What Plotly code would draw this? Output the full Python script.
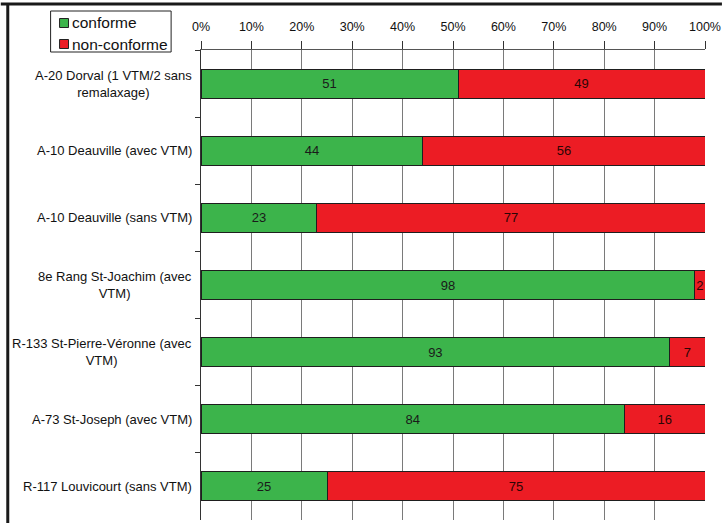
import plotly.graph_objects as go

categories = [
    "A-20 Dorval (1 VTM/2 sans<br>remalaxage)",
    "A-10 Deauville (avec VTM)",
    "A-10 Deauville (sans VTM)",
    "8e Rang St-Joachim (avec<br>VTM)",
    "R-133 St-Pierre-Véronne (avec<br>VTM)",
    "A-73 St-Joseph (avec VTM)",
    "R-117 Louvicourt (sans VTM)",
]
conforme = [51, 44, 23, 98, 93, 84, 25]
non_conforme = [49, 56, 77, 2, 7, 16, 75]
series_names = ["conforme", "non-conforme"]
series_colors = ["#3cb44b", "#ec1c24"]
x_ticks = [0, 10, 20, 30, 40, 50, 60, 70, 80, 90, 100]
x_ticklabels = [f"{v}%" for v in x_ticks]

FONT = "Liberation Sans, Arial, sans-serif"
W, H = 724, 523
L, R, T, B = 201, 17, 50, 3
pw, ph = W - L - R, H - T - B

def px_x(p):
    return (p - L) / pw

def px_y(p):
    return (H - B - p) / ph

fig = go.Figure()
for vals, name, col, tcol in [(conforme, series_names[0], series_colors[0], "#1a1a1a"),
                              (non_conforme, series_names[1], series_colors[1], "#2a0505")]:
    fig.add_trace(go.Bar(
        y=categories, x=vals, name=name, orientation="h",
        marker=dict(color=col, line=dict(color="#1e1e1e", width=1)),
        text=vals, textposition="inside", insidetextanchor="middle",
        textfont=dict(color=tcol, size=13, family=FONT),
        showlegend=False,
    ))

for c in categories:
    fig.add_annotation(
        x=0, xref="paper", y=c, yref="y", text=c, showarrow=False,
        xanchor="right", align="center", xshift=-7,
        font=dict(size=13, color="#111", family=FONT),
    )

# outer frame (top and left dark border)
fig.add_shape(type="line", xref="paper", yref="paper",
              x0=px_x(0), x1=px_x(W), y0=px_y(4), y1=px_y(4),
              line=dict(color="#1a1a1a", width=3))
fig.add_shape(type="line", xref="paper", yref="paper",
              x0=px_x(7), x1=px_x(7), y0=px_y(4), y1=px_y(H),
              line=dict(color="#1a1a1a", width=3))

# custom legend box
fig.add_shape(type="rect", xref="paper", yref="paper",
              x0=px_x(50), x1=px_x(171), y0=px_y(11), y1=px_y(52),
              line=dict(color="#222", width=1), fillcolor="white")
for i, (name, col) in enumerate(zip(series_names, series_colors)):
    cy = 23 + 21 * i
    fig.add_shape(type="rect", xref="paper", yref="paper",
                  x0=px_x(59), x1=px_x(68), y0=px_y(cy - 4.5), y1=px_y(cy + 4.5),
                  line=dict(color="#222", width=1), fillcolor=col)
    fig.add_annotation(x=px_x(69), y=px_y(cy), xref="paper", yref="paper",
                       text=name, showarrow=False, xanchor="left", yanchor="middle",
                       font=dict(size=15.5, color="#111", family=FONT))

fig.update_layout(
    width=W, height=H,
    margin=dict(l=L, r=R, t=T, b=B),
    paper_bgcolor="white", plot_bgcolor="white",
    barmode="stack", bargap=0.57,
    font=dict(family=FONT, size=12, color="#111"),
    uniformtext=dict(minsize=13, mode="show"),
    showlegend=False,
    xaxis=dict(
        side="top", range=[0, 100], tickvals=x_ticks, ticktext=x_ticklabels,
        showgrid=True, gridcolor="#7a7a7a", gridwidth=1,
        showline=True, linecolor="#555", linewidth=1,
        ticks="outside", ticklen=8, tickcolor="#333", ticklabelstandoff=5,
        tickfont=dict(size=12.5, color="#111"), zeroline=False,
    ),
    yaxis=dict(
        autorange="reversed", showticklabels=False,
        showline=True, linecolor="#333", linewidth=1,
        ticks="outside", ticklen=5, tickcolor="#333", tickson="boundaries",
        showgrid=False,
    ),
)

fig.write_html(
    "out.html",
    config={"displayModeBar": False},
    post_script="document.documentElement.style.overflow='hidden';document.body.style.overflow='hidden';document.body.style.margin='0';",
)
